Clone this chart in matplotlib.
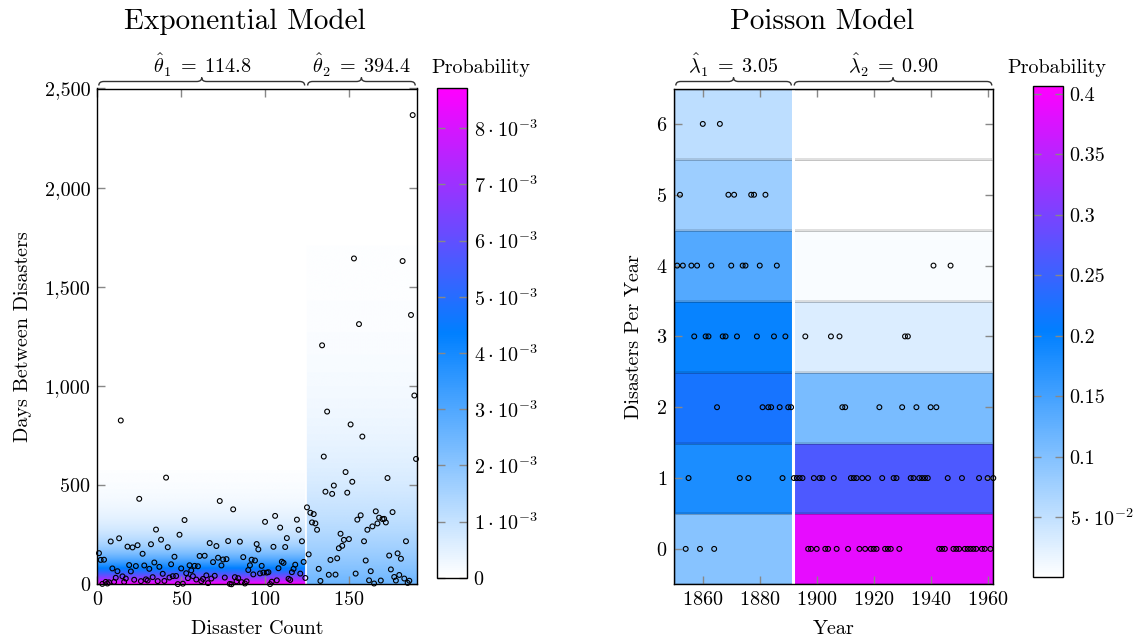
import math
import numpy as np
import matplotlib
matplotlib.use("Agg")
import matplotlib.pyplot as plt
from matplotlib.colors import LinearSegmentedColormap, Normalize
from matplotlib.cm import ScalarMappable
from matplotlib.patches import PathPatch
from matplotlib.path import Path
from matplotlib.ticker import FuncFormatter

plt.rcParams["font.family"] = "cmr10"
plt.rcParams["mathtext.fontset"] = "cm"
plt.rcParams["axes.formatter.use_mathtext"] = True

# days between successive coal mining disasters (190 intervals)
interval_days = [
    157, 123, 2, 124, 12, 4, 10, 216, 80, 12, 33, 66, 232, 826, 40, 12, 29, 190, 97, 65,
    186, 23, 92, 197, 431, 16, 154, 95, 25, 19, 78, 202, 36, 110, 276, 16, 88, 225, 53, 17,
    538, 187, 34, 101, 41, 139, 42, 1, 250, 80, 3, 324, 56, 31, 96, 70, 41, 93, 24, 91,
    143, 16, 27, 144, 45, 6, 208, 29, 112, 43, 193, 134, 420, 95, 125, 34, 127, 218, 2, 0,
    378, 36, 15, 31, 215, 11, 137, 4, 15, 72, 96, 124, 50, 120, 203, 176, 55, 93, 59, 315,
    59, 61, 1, 13, 189, 345, 20, 81, 286, 114, 108, 188, 233, 28, 22, 61, 78, 99, 326, 275,
    54, 217, 113, 32, 388, 151, 361, 312, 354, 307, 275, 78, 17, 1205, 644, 467, 871, 48, 123, 456,
    498, 49, 131, 182, 255, 194, 224, 566, 462, 228, 806, 517, 1643, 54, 326, 1312, 348, 745, 217, 120,
    275, 20, 66, 292, 4, 368, 307, 336, 19, 329, 330, 312, 536, 145, 75, 364, 37, 19, 156, 47,
    129, 1630, 29, 217, 7, 18, 1358, 2366, 952, 632,
]
disaster_number = list(range(1, len(interval_days) + 1))

# disasters per year, 1851 - 1962
years = list(range(1851, 1963))
disaster_counts = [
    4, 5, 4, 0, 1, 4, 3, 4, 0, 6, 3, 3, 4, 0, 2, 6, 3, 3, 5, 4,
    5, 3, 1, 4, 4, 1, 5, 5, 3, 4, 2, 5, 2, 2, 3, 4, 2, 1, 3, 2,
    2, 1, 1, 1, 1, 3, 0, 0, 1, 0, 1, 1, 0, 0, 3, 1, 0, 3, 2, 2,
    0, 1, 1, 1, 0, 1, 0, 1, 0, 0, 0, 2, 1, 0, 0, 0, 1, 1, 0, 2,
    3, 3, 1, 1, 2, 1, 1, 1, 1, 2, 4, 2, 0, 0, 0, 1, 4, 0, 0, 0,
    1, 0, 0, 0, 0, 0, 1, 0, 0, 1, 0, 1,
]

# fitted model parameters
theta_hat = [114.8, 394.4]
theta_split = 124.5          # disaster count where the rate changes
lambda_hat = [3.05, 0.90]
change_year = 1891.6
counts_shown = list(range(0, 7))

W, H = 1138, 637
fig = plt.figure(figsize=(W / 100, H / 100), dpi=100)

cmap = LinearSegmentedColormap.from_list(
    "prob", [(0.0, "white"), (0.5, (0.0, 0.5, 1.0)), (1.0, (1.0, 0.0, 1.0))])

FS = 14.5
TICK_GRAY = "#888888"


def frac(x0, top, x1, bottom):
    # pixel box (from top-left) -> figure fraction rect
    return [x0 / W, (H - bottom) / H, (x1 - x0) / W, (bottom - top) / H]


def style_axes(ax):
    ax.tick_params(direction="in", length=6, width=1, color=TICK_GRAY,
                   labelcolor="black", labelsize=FS, top=True, right=True, pad=5)
    for s in ax.spines.values():
        s.set_linewidth(1.0)
        s.set_color("black")


def style_cbar(cb):
    cb.ax.tick_params(direction="in", length=6, width=1, color=TICK_GRAY,
                      labelsize=FS, left=True, right=True, pad=5)
    cb.outline.set_linewidth(1.0)


def brace(ax, x0, x1, label):
    # curly brace above the axes between data x0 and x1
    p0 = ax.transData.transform((x0, 0))[0] + 1.5
    p1 = ax.transData.transform((x1, 0))[0] - 1.5
    top = ax.transAxes.transform((0, 1))[1]
    yb = top + 3
    h, r = 8, 5
    xm = (p0 + p1) / 2
    verts = [
        (p0, yb), (p0, yb + h / 2), (p0 + r, yb + h / 2),
        (xm - r, yb + h / 2), (xm, yb + h / 2), (xm, yb + h),
        (xm, yb + h / 2), (xm + r, yb + h / 2),
        (p1 - r, yb + h / 2), (p1, yb + h / 2), (p1, yb),
    ]
    codes = [Path.MOVETO, Path.CURVE3, Path.CURVE3,
             Path.LINETO, Path.CURVE3, Path.CURVE3,
             Path.CURVE3, Path.CURVE3,
             Path.LINETO, Path.CURVE3, Path.CURVE3]
    verts = [(x / W, y / H) for x, y in verts]
    fig.add_artist(PathPatch(Path(verts, codes), fill=False, lw=1.0,
                             edgecolor="#333333", transform=fig.transFigure))
    fig.text(xm / W, (yb + h + 4) / H, label, ha="center", va="baseline", fontsize=FS)


def sci(k, e):
    return rf"${k}\:\cdot\:10^{{{e}}}$"


# ---------------- Exponential model ----------------
ax1 = fig.add_axes(frac(97.3, 88.5, 416.7, 584.3))
norm1 = Normalize(0, 1 / theta_hat[0])
x_edges = [0, theta_split, 190.4]
for i, th in enumerate(theta_hat):
    yy = np.linspace(0, 5 * th, 400)
    dens = np.exp(-yy / th) / th
    ax1.imshow(dens[:, None], extent=[x_edges[i], x_edges[i + 1], 0, 5 * th],
               origin="lower", aspect="auto", cmap=cmap, norm=norm1,
               interpolation="bilinear", zorder=0)
ax1.axvline(theta_split, color="white", lw=1.2, zorder=1)
ax1.scatter(disaster_number, interval_days, s=12, facecolors="none",
            edgecolors="black", linewidths=0.8, zorder=3, clip_on=False)
ax1.set_xlim(0, 190.4)
ax1.set_ylim(0, 2500)
ax1.set_xticks([0, 50, 100, 150])
ax1.set_yticks([0, 500, 1000, 1500, 2000, 2500])
ax1.yaxis.set_major_formatter(FuncFormatter(lambda v, p: f"{v:,.0f}"))
ax1.set_xlabel("Disaster Count", fontsize=FS, labelpad=8)
ax1.set_ylabel("Days Between Disasters", fontsize=FS, labelpad=9)
style_axes(ax1)

cax1 = fig.add_axes(frac(436.7, 88.3, 466.7, 577.7))
cb1 = fig.colorbar(ScalarMappable(norm=norm1, cmap=cmap), cax=cax1)
cb1.set_ticks([k * 1e-3 for k in range(0, 9)])
cb1.set_ticklabels(["0"] + [sci(k, -3) for k in range(1, 9)])
style_cbar(cb1)
fig.text(481 / W, (H - 68) / H, "Probability", ha="center", va="center", fontsize=FS)

fig.text(245 / W, (H - 22) / H, "Exponential Model", ha="center", va="center", fontsize=21)

# ---------------- Poisson model ----------------
ax2 = fig.add_axes(frac(674.3, 88.5, 993.3, 584.3))
pmf = {lam: [math.exp(-lam) * lam ** k / math.factorial(k) for k in counts_shown]
       for lam in lambda_hat}
all_pmf = [v for lam in lambda_hat for v in pmf[lam]]
norm2 = Normalize(min(all_pmf), max(all_pmf))
y_edges = np.arange(-0.5, 7.0, 1.0)
year_edges = [1850, change_year, 1962]
for i, lam in enumerate(lambda_hat):
    p = pmf[lam]
    p_next = p[1:] + p[-1:]
    cell = np.array([(a + b) / 2 for a, b in zip(p, p_next)])
    ax2.pcolormesh([year_edges[i], year_edges[i + 1]], y_edges, cell[:, None],
                   cmap=cmap, norm=norm2, edgecolors=(0, 0, 0, 0.12),
                   linewidth=1.0, zorder=0)
ax2.axvline(change_year, color="white", lw=2.2, zorder=1)
ax2.scatter(years, disaster_counts, s=12, facecolors="none",
            edgecolors="black", linewidths=0.8, zorder=3, clip_on=False)
ax2.set_xlim(1850, 1962)
ax2.set_ylim(-0.5, 6.5)
ax2.set_xticks([1860, 1880, 1900, 1920, 1940, 1960])
ax2.set_yticks(counts_shown)
ax2.set_xlabel("Year", fontsize=FS, labelpad=8)
ax2.set_ylabel("Disasters Per Year", fontsize=FS, labelpad=9)
style_axes(ax2)

cax2 = fig.add_axes(frac(1033.3, 85.7, 1062.7, 577.3))
cb2 = fig.colorbar(ScalarMappable(norm=norm2, cmap=cmap), cax=cax2)
cb2.set_ticks([0.05, 0.1, 0.15, 0.2, 0.25, 0.3, 0.35, 0.4])
cb2.set_ticklabels([sci(5, -2), "0.1", "0.15", "0.2", "0.25", "0.3", "0.35", "0.4"])
style_cbar(cb2)
fig.text(1057 / W, (H - 68) / H, "Probability", ha="center", va="center", fontsize=FS)

fig.text(822 / W, (H - 22) / H, "Poisson Model", ha="center", va="center", fontsize=21)

# braces with the fitted parameters
brace(ax1, 0, theta_split, rf"$\hat{{\theta}}_1\;=\;{theta_hat[0]}$")
brace(ax1, theta_split, 190.4, rf"$\hat{{\theta}}_2\;=\;{theta_hat[1]}$")
brace(ax2, 1850, change_year, rf"$\hat{{\lambda}}_1\;=\;{lambda_hat[0]:.2f}$")
brace(ax2, change_year, 1962, rf"$\hat{{\lambda}}_2\;=\;{lambda_hat[1]:.2f}$")

fig.savefig("out.png", dpi=100)
